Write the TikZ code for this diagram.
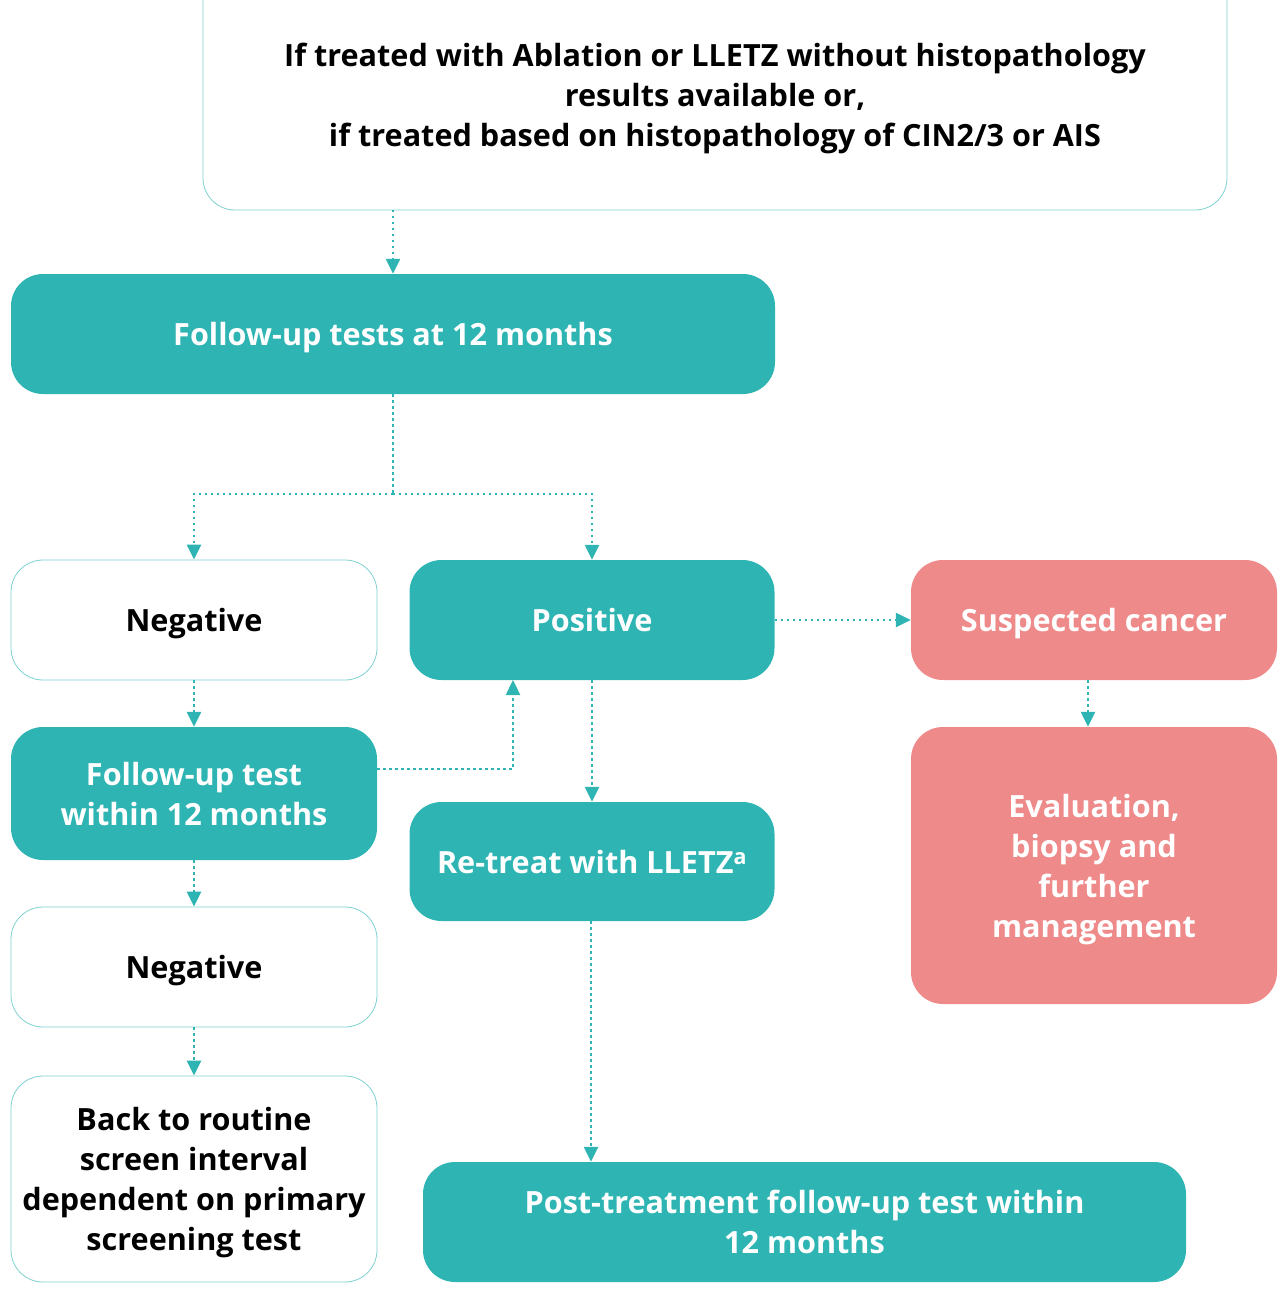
\documentclass[tikz,border=0pt]{standalone}
\usepackage{fontspec}
\setmainfont{Open Sans}
\usetikzlibrary{arrows.meta}
\definecolor{teal1}{HTML}{2EB5B3}
\definecolor{tealline}{HTML}{7ED2D0}
\definecolor{pink1}{HTML}{EF8A8A}
\begin{document}
\begin{tikzpicture}[x=1pt,y=-1pt,
  base/.style={rounded corners=32pt, align=center, font=\fontsize{30.6}{40}\selectfont\bfseries, inner sep=0pt, text depth=0pt},
  tealbox/.style={base, fill=teal1, text=white},
  whitebox/.style={base, draw=tealline, line width=0.8pt, fill=white, text=black},
  pinkbox/.style={base, fill=pink1, text=white},
  conn/.style={teal1, line width=2.4pt, dash pattern=on 2.4pt off 3.6pt, -{Triangle[length=15pt,width=14pt]}},
  seg/.style={teal1, line width=2.4pt, dash pattern=on 2.4pt off 3.6pt}]
\useasboundingbox (0,0) rectangle (1287,1296);
\clip (0,0) rectangle (1287,1296);
\node[whitebox, minimum width=1024pt, minimum height=250pt] (top) at (715,85) {};
\node[font=\fontsize{30.6}{40}\selectfont\bfseries, align=center, text depth=0pt, inner sep=0pt] (toptext) at (715,95) {If treated with Ablation or LLETZ without histopathology\\results available or,\\ if treated based on histopathology of CIN2/3 or AIS};
\coordinate (topb) at (393,210);
\node[tealbox, minimum width=764pt, minimum height=120pt] (f12) at (393,334) {Follow-up tests at 12 months};
\node[whitebox, minimum width=366pt, minimum height=120pt] (neg1) at (194,620) {Negative};
\node[tealbox, minimum width=365pt, minimum height=120pt] (pos) at (592,620) {Positive};
\node[pinkbox, minimum width=366pt, minimum height=120pt] (sus) at (1094,620) {Suspected cancer};
\node[tealbox, minimum width=366pt, minimum height=133pt] (fw) at (194,793.5) {Follow-up test\\within 12 months};
\node[tealbox, minimum width=365pt, minimum height=119pt] (re) at (592,861.5) {Re-treat with LLETZ\textsuperscript{a}};
\node[pinkbox, minimum width=366pt, minimum height=277pt] (ev) at (1094,865.5) {Evaluation,\\biopsy and\\further\\management};
\node[whitebox, minimum width=366pt, minimum height=120pt] (neg2) at (194,967) {Negative};
\node[whitebox, minimum width=366pt, minimum height=206pt] (back) at (194,1179) {Back to routine\\screen interval\\dependent on primary\\screening test};
\node[tealbox, minimum width=763pt, minimum height=120pt] (post) at (804.5,1222) {Post-treatment follow-up test within\\12 months};
% connectors
\draw[conn] (topb) -- (f12.north -| topb);
\coordinate (split) at (393,494);
\draw[seg] (f12.south) -- (split);
\draw[conn] (split) -| (neg1.north);
\draw[conn] (split) -| (pos.north);
\draw[conn] (neg1.south) -- (fw.north);
\draw[conn] (fw.south) -- (neg2.north);
\draw[conn] (neg2.south) -- (back.north);
\coordinate (fwr) at (fw.east |- 0,769);
\coordinate (posup) at (513,680);
\draw[conn] (fwr) -| (posup);
\draw[conn] (pos.east) -- (sus.west);
\draw[conn] (pos.south) -- (re.north);
\draw[conn] (sus.south -| 1088,0) -- (ev.north -| 1088,0);
\draw[conn] (re.south -| 591,0) -- (post.north -| 591,0);
\end{tikzpicture}
\end{document}
